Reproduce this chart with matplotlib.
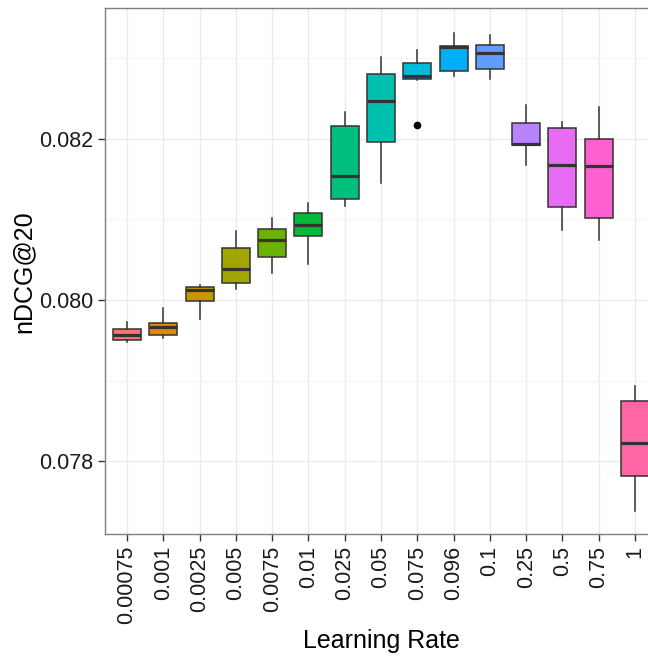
import matplotlib
matplotlib.use("Agg")
import matplotlib.pyplot as plt
from matplotlib.ticker import FixedLocator

plt.rcParams['font.family'] = ['Liberation Sans', 'DejaVu Sans']

learning_rates = ["0.00075", "0.001", "0.0025", "0.005", "0.0075", "0.01", "0.025",
                  "0.05", "0.075", "0.096", "0.1", "0.25", "0.5", "0.75", "1"]
whisker_low = [0.079479, 0.079525, 0.079768, 0.080140, 0.080331, 0.080446, 0.081169,
               0.081454, 0.082728, 0.082777, 0.082744, 0.081670, 0.080872, 0.080744, 0.077387]
q1 = [0.079504, 0.079562, 0.079984, 0.080215, 0.080529, 0.080797, 0.081256,
      0.081955, 0.082744, 0.082843, 0.082861, 0.081918, 0.081157, 0.081017, 0.077818]
median = [0.079570, 0.079669, 0.080120, 0.080381, 0.080748, 0.080926, 0.081541,
          0.082464, 0.082774, 0.083141, 0.083066, 0.081934, 0.081674, 0.081661, 0.078223]
q3 = [0.079640, 0.079719, 0.080165, 0.080641, 0.080877, 0.081082, 0.082161,
      0.082802, 0.082935, 0.083153, 0.083162, 0.082195, 0.082133, 0.081996, 0.078748]
whisker_high = [0.079727, 0.079897, 0.080190, 0.080859, 0.081013, 0.081199, 0.082335,
                0.083009, 0.083100, 0.083314, 0.083286, 0.082414, 0.082203, 0.082389, 0.078934]
outliers = [[], [], [], [], [], [], [], [], [0.082174], [], [], [], [], [], []]
colors = ["#F8766D", "#E58700", "#C99800", "#A3A500", "#6BB100", "#00BA38", "#00BF7D",
          "#00C0AF", "#00BCD8", "#00B0F6", "#619CFF", "#B983FF", "#E76BF3", "#FD61D1", "#FF67A4"]

fig = plt.figure(figsize=(6.48, 6.60), dpi=100)
ax_h = 534.3 - 8.3
ax = fig.add_axes([105.2 / 648, 1 - 534.3 / 660, (656.8 - 105.2) / 648, ax_h / 660])

stats = []
for i in range(len(learning_rates)):
    stats.append(dict(whislo=whisker_low[i], q1=q1[i], med=median[i], q3=q3[i],
                      whishi=whisker_high[i], fliers=outliers[i], label=learning_rates[i]))

positions = list(range(1, len(learning_rates) + 1))
bp = ax.bxp(stats, positions=positions, widths=0.77, patch_artist=True, showcaps=False,
            boxprops=dict(edgecolor="#333333", linewidth=1.1),
            whiskerprops=dict(color="#333333", linewidth=1.1),
            medianprops=dict(color="#333333", linewidth=2.3, solid_capstyle="butt"),
            flierprops=dict(marker="o", markerfacecolor="black", markeredgecolor="black",
                            markersize=4.5),
            zorder=3)
for patch, c in zip(bp['boxes'], colors):
    patch.set_facecolor(c)

ax.set_xlim(0.4, 15.6)
ax.set_ylim(0.077095, 0.083617)
ax.yaxis.set_major_locator(FixedLocator([0.078, 0.080, 0.082]))
ax.yaxis.set_minor_locator(FixedLocator([0.077, 0.079, 0.081, 0.083]))
ax.set_yticklabels(["0.078", "0.080", "0.082"])
ax.set_xticks(positions)
ax.set_xticklabels(learning_rates, rotation=90)

ax.grid(which="major", color="#EBEBEB", linewidth=1.0, zorder=0)
ax.grid(which="minor", axis="y", color="#F5F5F5", linewidth=0.8, zorder=0)
ax.set_axisbelow(True)

for s in ax.spines.values():
    s.set_color("#7F7F7F")
    s.set_linewidth(1.0)

ax.tick_params(axis="both", which="major", length=5, width=1.0, color="#333333",
               labelsize=15.5, labelcolor="#1A1A1A", pad=3.5)
ax.tick_params(axis="y", which="minor", length=0)

ax.set_xlabel("Learning Rate", fontsize=18, color="black")
ax.set_ylabel("nDCG@20", fontsize=18, color="black")
ax.xaxis.label.set_va("baseline")
ax.xaxis.set_label_coords(0.5, (534.3 - 648.3) / ax_h)
ax.yaxis.label.set_va("center")
ax.yaxis.set_label_coords((24 - 105.2) / (656.8 - 105.2), 0.5)

fig.savefig("out.png", dpi=100)
